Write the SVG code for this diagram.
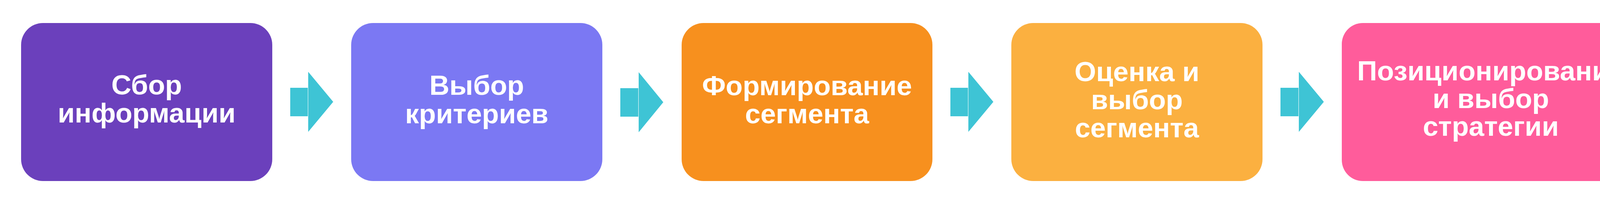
<svg xmlns="http://www.w3.org/2000/svg" width="4266" height="528" viewBox="0 0 4266 528">
  <style>
    .box { stroke: none; }
    .lbl { font-family: "Liberation Sans", Arial, sans-serif; font-weight: bold; font-size: 71px; fill: #FFFFFF; text-anchor: middle; }
    .arr { fill: #3EC4D5; stroke: none; }
  </style>
  <rect width="4266" height="528" fill="#FFFFFF"/>
  <g id="node-1">
    <rect class="box" x="54" y="59" width="643" height="405" rx="56" ry="56" fill="#6B40BC"/>
    <text class="lbl" x="375.5" y="242">Сбор</text>
    <text class="lbl" x="375.5" y="314">информации</text>
  </g>
  <g id="node-2">
    <rect class="box" x="899" y="59" width="643" height="405" rx="56" ry="56" fill="#7B78F3"/>
    <text class="lbl" x="1220.5" y="243">Выбор</text>
    <text class="lbl" x="1220.5" y="316">критериев</text>
  </g>
  <g id="node-3">
    <rect class="box" x="1745" y="59" width="642" height="405" rx="56" ry="56" fill="#F7901E"/>
    <text class="lbl" x="2066" y="244">Формирование</text>
    <text class="lbl" x="2066" y="316">сегмента</text>
  </g>
  <g id="node-4">
    <rect class="box" x="2589" y="59" width="643" height="405" rx="56" ry="56" fill="#FBB040"/>
    <text class="lbl" x="2910.5" y="208">Оценка и</text>
    <text class="lbl" x="2910.5" y="280">выбор</text>
    <text class="lbl" x="2910.5" y="352">сегмента</text>
  </g>
  <g id="node-5">
    <rect class="box" x="3435" y="59" width="763" height="405" rx="54" ry="54" fill="#FF5C9B"/>
    <text class="lbl" x="3816.5" y="206">Позиционирование</text>
    <text class="lbl" x="3816.5" y="277">и выбор</text>
    <text class="lbl" x="3816.5" y="348">стратегии</text>
  </g>
  <g id="connectors">
    <g id="arrow-1">
      <rect class="arr" x="743" y="225" width="45" height="73"/>
      <polygon class="arr" points="789,184 853,261 789,338"/>
    </g>
    <g id="arrow-2">
      <rect class="arr" x="1588" y="226" width="46" height="73"/>
      <polygon class="arr" points="1635,185 1698,262 1635,339"/>
    </g>
    <g id="arrow-3">
      <rect class="arr" x="2433" y="225" width="45" height="73"/>
      <polygon class="arr" points="2479,184 2543,261 2479,338"/>
    </g>
    <g id="arrow-4">
      <rect class="arr" x="3278" y="225" width="46" height="73"/>
      <polygon class="arr" points="3325,184 3389,261 3325,338"/>
    </g>
  </g>
</svg>
